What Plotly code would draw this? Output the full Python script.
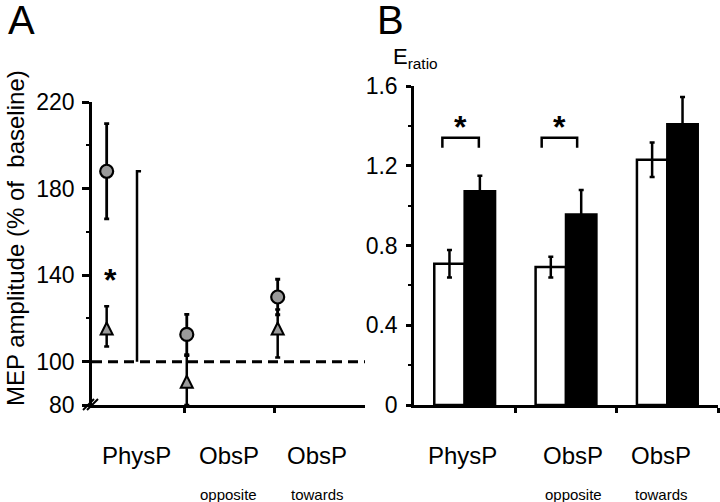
import plotly.graph_objects as go

# ---------------- data ----------------
conditions = ["PhysP", "ObsP", "ObsP"]
sub_labels = ["", "opposite", "towards"]

# Panel A: MEP amplitude (% of baseline)
circle_vals = [188.0, 112.6, 129.9]
circle_err = [22.0, 9.3, 8.2]
triangle_vals = [118.1, 93.5, 118.1]
triangle_err_plus = [7.5, 9.3, 6.0]
triangle_err_minus = [11.1, 13.5, 16.2]
baseline_value = 100
sig_a_top = 188
a_tickvals = [80, 100, 140, 180, 220]
a_minor = [120, 160, 200]

# Panel B: E ratio
white_vals = [0.709, 0.692, 1.23]
white_err = [0.069, 0.052, 0.086]
black_vals = [1.072, 0.955, 1.408]
black_err = [0.078, 0.123, 0.137]
b_tickvals = [0, 0.4, 0.8, 1.2, 1.6]
b_ticktext = ["0", "0.4", "0.8", "1.2", "1.6"]
b_minor = [0.2, 0.6, 1.0, 1.4]
sig_b_groups = [0, 1]

# ---------------- layout helpers ----------------
W, H = 720, 502
FONT = "Liberation Sans, Arial, sans-serif"


def px(x):
    return x / W


def py(y):
    return 1 - y / H


A_X = [px(92), px(365)]
B_X = [px(414), px(718)]
Y_DOM_A = [py(405), py(102)]
Y_DOM_B = [py(405), py(86)]

pt_offset_a = [0.13, 0.02, 0.03]
xa = [i + o for i, o in enumerate(pt_offset_a)]
xb = [i + 0.5 for i in range(len(conditions))]

fig = go.Figure()

# Panel A triangles
fig.add_trace(go.Scatter(
    x=xa, y=triangle_vals, mode="markers", xaxis="x", yaxis="y",
    marker=dict(symbol="arrow-up", size=12, color="#9a9a9a",
                line=dict(color="black", width=2)),
    error_y=dict(type="data", symmetric=False, array=triangle_err_plus,
                 arrayminus=triangle_err_minus, color="black",
                 thickness=2.5, width=2.5),
    cliponaxis=False, showlegend=False))

# Panel A circles
fig.add_trace(go.Scatter(
    x=xa, y=circle_vals, mode="markers", xaxis="x", yaxis="y",
    marker=dict(symbol="circle", size=13, color="#9a9a9a",
                line=dict(color="black", width=2.2)),
    error_y=dict(type="data", array=circle_err, color="black",
                 thickness=2.8, width=2.5),
    cliponaxis=False, showlegend=False))

# Panel B bars
fig.add_trace(go.Bar(
    x=xb, y=white_vals, xaxis="x2", yaxis="y2",
    marker=dict(color="white", line=dict(color="black", width=2.5)),
    error_y=dict(type="data", array=white_err, color="black",
                 thickness=2.5, width=2.5),
    showlegend=False))
fig.add_trace(go.Bar(
    x=xb, y=black_vals, xaxis="x2", yaxis="y2",
    marker=dict(color="black", line=dict(color="black", width=2.5)),
    error_y=dict(type="data", array=black_err, color="black",
                 thickness=2.5, width=2.5),
    showlegend=False))

axis_common = dict(showgrid=False, zeroline=False, showline=True,
                   linecolor="black", linewidth=2.5, ticks="outside",
                   tickcolor="black", tickwidth=2.5, automargin=False,
                   tickfont=dict(family=FONT, size=23, color="black"))

fig.update_layout(
    width=W, height=H, margin=dict(l=0, r=0, t=0, b=0, pad=0, autoexpand=False),
    paper_bgcolor="white", plot_bgcolor="white",
    barmode="group", bargap=0.4, bargroupgap=0,
    font=dict(family=FONT, color="black"),
    xaxis=dict(domain=A_X, range=[-0.033, 3.0], tickvals=[1, 2],
               showticklabels=False, ticklen=5, anchor="y", **axis_common),
    yaxis=dict(domain=Y_DOM_A, range=[80, 220], tickvals=a_tickvals,
               ticklen=7, ticklabelstandoff=3, anchor="x",
               minor=dict(tickvals=a_minor, ticks="outside", ticklen=3,
                          tickwidth=2, tickcolor="black"),
               **axis_common),
    xaxis2=dict(domain=B_X, range=[0, 3], tickvals=[1, 2, 3],
                showticklabels=False, ticklen=5, anchor="y2", **axis_common),
    yaxis2=dict(domain=Y_DOM_B, range=[0, 1.6], tickvals=b_tickvals,
                ticktext=b_ticktext, ticklen=5, ticklabelstandoff=4,
                anchor="x2",
                minor=dict(tickvals=b_minor, ticks="outside", ticklen=3,
                           tickwidth=2, tickcolor="black"),
                **axis_common),
)

shapes = []
# baseline dashed line (panel A)
shapes.append(dict(type="line", xref="x", yref="y", x0=-0.033, x1=3.0,
                   y0=baseline_value, y1=baseline_value, layer="below",
                   line=dict(color="black", width=3, dash="10px,6px")))
# significance line (panel A)
sx = 0.467
shapes.append(dict(type="path", xref="x", yref="y",
                   path=f"M {sx},{baseline_value} L {sx},{sig_a_top} L {sx + 0.045},{sig_a_top}",
                   line=dict(color="black", width=2.5)))
# axis break marks
for dx in (-4, 0):
    shapes.append(dict(type="line", xref="paper", yref="paper",
                       x0=px(92 + dx - 5), y0=py(410), x1=px(92 + dx + 6), y1=py(399),
                       line=dict(color="black", width=2)))
# brackets (panel B)
bracket_l = [0.28, 0.26]
bracket_r = [0.64, 0.61]
for k, g in enumerate(sig_b_groups):
    x0, x1 = g + bracket_l[k], g + bracket_r[k]
    shapes.append(dict(type="path", xref="x2", yref="y2",
                       path=f"M {x0},1.29 L {x0},1.34 L {x1},1.34 L {x1},1.29",
                       line=dict(color="black", width=2.5)))

annotations = []


def ann(**kw):
    base = dict(showarrow=False, xanchor="center", yanchor="middle")
    base.update(kw)
    annotations.append(base)


# panel letters
ann(text="A", xref="paper", yref="paper", x=px(21), y=py(20), font=dict(size=40, family=FONT))
ann(text="B", xref="paper", yref="paper", x=px(391), y=py(20), font=dict(size=40, family=FONT))
# y titles
ann(text="MEP amplitude (% of  baseline)", xref="paper", yref="paper",
    x=px(15), y=py(238), textangle=-90, font=dict(size=24, family=FONT))
ann(text="E<sub>ratio</sub>", xref="paper", yref="paper", x=px(391), y=py(58),
    xanchor="left", font=dict(size=22, family=FONT))
# asterisks
ann(text="<b>*</b>", xref="x", yref="y", x=0.167, y=139.5, yshift=-4,
    font=dict(size=32, family=FONT))
for k, g in enumerate(sig_b_groups):
    ann(text="<b>*</b>", xref="x2", yref="y2", x=g + (bracket_l[k] + bracket_r[k]) / 2,
        y=1.417, yshift=-5, font=dict(size=32, family=FONT))
# category labels
shift_a = [-3, -1, -3]
shift_b = [-2, 7, -6]
for i, (lab, sub) in enumerate(zip(conditions, sub_labels)):
    ann(text=lab, xref="x", yref="paper", x=i + 0.5, y=py(455), xshift=shift_a[i],
        font=dict(size=24, family=FONT))
    ann(text=lab, xref="x2", yref="paper", x=i + 0.5, y=py(455), xshift=shift_b[i],
        font=dict(size=24, family=FONT))
    if sub:
        ann(text=sub, xref="x", yref="paper", x=i + 0.5, y=py(494), xshift=shift_a[i],
            font=dict(size=15, family=FONT))
        ann(text=sub, xref="x2", yref="paper", x=i + 0.5, y=py(494), xshift=shift_b[i],
            font=dict(size=15, family=FONT))

fig.update_layout(shapes=shapes, annotations=annotations)
fig.write_html("out.html", config={"displayModeBar": False},
               post_script="document.body.style.margin='0';document.body.style.overflow='hidden';")
